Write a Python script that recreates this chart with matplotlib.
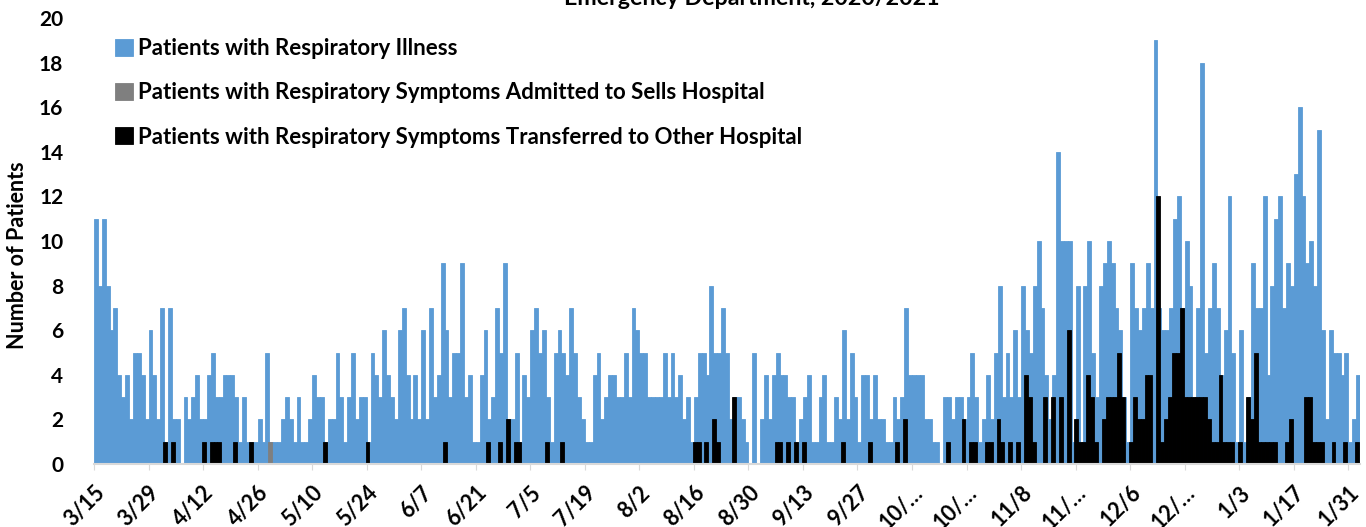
import matplotlib
matplotlib.use("Agg")
import matplotlib.pyplot as plt
import numpy as np
import pandas as pd

# Daily counts from 3/15/2020, one row per two weeks
start_date = "2020-03-15"

respiratory_illness = [
    11, 8, 11, 8, 6, 7, 4, 3, 4, 2, 5, 5, 4, 2,
    6, 4, 2, 7, 1, 7, 2, 2, 0, 3, 2, 3, 4, 2,
    2, 4, 5, 3, 3, 4, 4, 4, 3, 1, 3, 1, 1, 1,
    2, 1, 5, 1, 1, 1, 2, 3, 2, 1, 3, 1, 1, 2,
    4, 3, 3, 1, 2, 2, 5, 3, 1, 3, 5, 2, 3, 3,
    1, 5, 4, 3, 6, 4, 3, 2, 6, 7, 4, 2, 4, 2,
    6, 2, 7, 3, 4, 9, 6, 3, 5, 5, 9, 3, 4, 1,
    1, 4, 6, 2, 3, 7, 5, 9, 2, 2, 5, 1, 4, 3,
    6, 7, 5, 6, 3, 1, 5, 6, 5, 4, 7, 5, 3, 2,
    1, 1, 4, 5, 2, 3, 4, 4, 3, 3, 5, 3, 7, 6,
    5, 5, 3, 3, 3, 3, 5, 3, 5, 3, 4, 2, 3, 1,
    3, 5, 5, 4, 8, 5, 5, 7, 5, 2, 3, 3, 2, 1,
    0, 5, 0, 2, 4, 2, 4, 5, 4, 4, 3, 3, 1, 2,
    3, 4, 1, 1, 3, 4, 1, 1, 3, 2, 6, 2, 5, 3,
    1, 4, 4, 2, 4, 2, 2, 1, 1, 3, 2, 3, 7, 4,
    4, 4, 4, 2, 2, 1, 1, 0, 3, 3, 2, 3, 3, 2,
    3, 5, 3, 1, 2, 4, 2, 5, 8, 3, 5, 3, 6, 3,
    8, 6, 5, 8, 10, 7, 4, 2, 4, 14, 10, 10, 10, 1,
    8, 1, 8, 10, 5, 3, 8, 9, 10, 9, 7, 6, 3, 1,
    9, 7, 6, 7, 9, 7, 19, 7, 6, 6, 7, 11, 12, 7,
    10, 8, 3, 7, 18, 5, 7, 9, 7, 4, 6, 12, 5, 1,
    6, 1, 3, 9, 7, 7, 12, 4, 8, 11, 12, 7, 9, 8,
    13, 16, 12, 9, 10, 8, 15, 6, 2, 6, 5, 5, 4, 5,
    1, 2, 4,
]

transferred = [
    0, 0, 0, 0, 0, 0, 0, 0, 0, 0, 0, 0, 0, 0,
    0, 0, 0, 0, 1, 0, 1, 0, 0, 0, 0, 0, 0, 0,
    1, 0, 1, 1, 1, 0, 0, 0, 1, 0, 0, 0, 1, 0,
    0, 0, 0, 0, 0, 0, 0, 0, 0, 0, 0, 0, 0, 0,
    0, 0, 0, 1, 0, 0, 0, 0, 0, 0, 0, 0, 0, 0,
    1, 0, 0, 0, 0, 0, 0, 0, 0, 0, 0, 0, 0, 0,
    0, 0, 0, 0, 0, 0, 1, 0, 0, 0, 0, 0, 0, 0,
    0, 0, 0, 1, 0, 0, 1, 0, 2, 0, 1, 1, 0, 0,
    0, 0, 0, 0, 1, 0, 0, 0, 1, 0, 0, 0, 0, 0,
    0, 0, 0, 0, 0, 0, 0, 0, 0, 0, 0, 0, 0, 0,
    0, 0, 0, 0, 0, 0, 0, 0, 0, 0, 0, 0, 0, 0,
    1, 1, 0, 1, 0, 2, 1, 0, 0, 0, 3, 0, 0, 0,
    0, 0, 0, 0, 0, 0, 0, 1, 1, 0, 1, 0, 1, 0,
    1, 0, 0, 0, 0, 0, 0, 0, 0, 0, 1, 0, 0, 0,
    0, 0, 0, 1, 0, 0, 0, 0, 0, 0, 1, 0, 2, 0,
    0, 0, 0, 0, 0, 0, 0, 0, 0, 1, 0, 0, 0, 2,
    0, 1, 1, 0, 0, 1, 1, 0, 2, 1, 0, 1, 0, 1,
    0, 4, 3, 1, 0, 0, 3, 0, 3, 0, 3, 0, 6, 0,
    2, 1, 1, 4, 3, 1, 0, 2, 3, 3, 3, 5, 3, 0,
    1, 3, 2, 2, 4, 4, 0, 12, 1, 2, 3, 5, 5, 7,
    3, 3, 3, 3, 3, 3, 2, 1, 1, 4, 1, 1, 1, 0,
    1, 0, 3, 2, 5, 1, 1, 1, 1, 1, 0, 0, 1, 2,
    0, 0, 0, 3, 3, 1, 1, 1, 0, 0, 1, 0, 0, 1,
    0, 0, 1,
]

# only one day with an admission to Sells
admitted_days = ["2020-04-29"]
admitted_counts = [1]

tick_labels = ["3/15", "3/29", "4/12", "4/26", "5/10", "5/24", "6/7", "6/21",
               "7/5", "7/19", "8/2", "8/16", "8/30", "9/13", "9/27", "10/…",
               "10/…", "11/8", "11/…", "12/6", "12/…", "1/3", "1/17", "1/31"]

labels = ["Patients with Respiratory Illness",
          "Patients with Respiratory Symptoms Admitted to Sells Hospital",
          "Patients with Respiratory Symptoms Transferred to Other Hospital"]

plt.rcParams['font.family'] = ['Lato', 'DejaVu Sans']
plt.rcParams['font.weight'] = 'bold'

dates = pd.date_range(start_date, periods=len(respiratory_illness), freq="D")
x = np.arange(len(dates))
admitted = np.zeros(len(dates))
for d, c in zip(admitted_days, admitted_counts):
    admitted[dates.get_loc(pd.Timestamp(d))] = c

blue = "#5B9BD5"
gray = "#7F7F7F"

fig = plt.figure(figsize=(13.66, 5.27), dpi=100)
ax = fig.add_axes([94 / 1366, 63 / 527, 1266 / 1366, 446 / 527])

b1 = ax.bar(x, respiratory_illness, width=1.0, color=blue, edgecolor=blue,
            linewidth=0.6, label=labels[0])
b2 = ax.bar(x - 0.3, admitted, width=1.0, color=gray, edgecolor=gray,
            linewidth=0.6, label=labels[1])
b3 = ax.bar(x - 0.3, transferred, width=1.0, color="black", edgecolor="black",
            linewidth=0.6, label=labels[2])

ax.set_xlim(-0.5, len(dates) - 0.5)
ax.set_ylim(0, 20)
ax.set_yticks(np.arange(0, 21, 2))
ax.tick_params(axis="y", length=0, pad=22, labelsize=15)

ticks = np.arange(0, len(dates), 14)
ax.set_xticks(ticks - 0.5)
ax.set_xticklabels(tick_labels, rotation=45, ha="right", va="top",
                   rotation_mode="anchor", fontsize=15.5, fontweight="bold")
ax.tick_params(axis="x", length=4, color="#D9D9D9", pad=9)

for s in ["top", "right", "left"]:
    ax.spines[s].set_visible(False)
ax.spines["bottom"].set_color("#D9D9D9")
ax.spines["bottom"].set_linewidth(1.5)

fig.text(18 / 1366, 1 - 255 / 527, "Number of Patients", rotation=90,
         ha="center", va="center", fontsize=15.5, fontweight="bold")

fig.text(752 / 1366, 1 - 5 / 527, "Emergency Department, 2020/2021",
         ha="center", va="baseline", fontsize=16.7, fontweight="bold")

ax.legend(handles=[b1, b2, b3], loc="upper left",
          bbox_to_anchor=(0.0095, 0.975), frameon=False, fontsize=16,
          handlelength=0.8, handleheight=0.8, handletextpad=0.25,
          labelspacing=1.05, borderaxespad=0)

fig.savefig("out.png", dpi=100)
